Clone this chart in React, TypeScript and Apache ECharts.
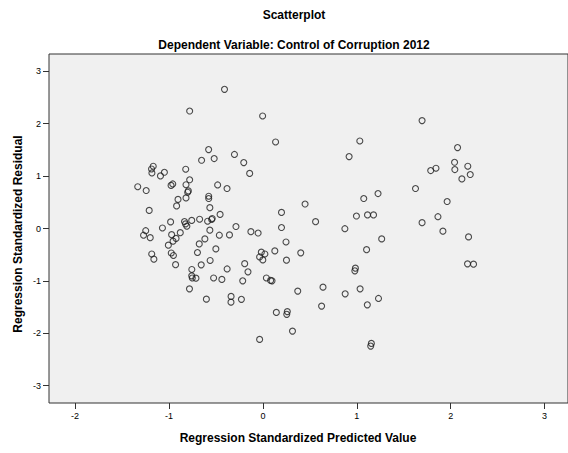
import React, { useEffect, useRef } from "react";
import * as echarts from "echarts";

// Regression diagnostics: standardized predicted value vs. standardized residual
const predicted = [
  -0.780, -0.578, -0.653, -0.519, -1.168, -1.186, -1.182, -1.049, -1.091, -0.822,
  -0.780, -1.333, -1.243, -0.960, -0.978, -0.819, -0.794, -0.801, -0.819, -0.904,
  -0.919, -1.211, -0.482, -0.577, -0.577, -0.565, -0.456, -0.983, -0.835, -0.824,
  -0.810, -0.758, -0.674, -0.589, -0.540, -0.546, -1.070, -1.248, -1.271, -1.200,
  -0.972, -0.880, -0.925, -0.957, -1.007, -1.184, -1.161, -0.976, -0.953, -0.930,
  -0.757, -0.758, -0.752, -0.713, -0.782, -0.602, -0.565, -0.464, -0.618, -0.678,
  -0.501, -0.697, -0.562, -0.657, -0.525, -0.437, -0.356, -0.287, -0.381, -0.215,
  -0.194, -0.159, -0.339, -0.340, -0.229, -0.409, -0.003, 0.135, -0.303, -0.204,
  -0.141, -0.382, -0.128, -0.051, 0.198, 0.198, 0.449, 0.561, -0.017, 0.021,
  -0.035, -0.001, 0.127, 0.246, 0.251, 0.403, 0.037, 0.082, 0.097, 0.143,
  0.260, 0.254, 0.315, -0.035, 0.371, 0.640, 0.625, 0.876, 0.873, 1.032,
  0.918, 0.996, 1.074, 1.114, 1.178, 1.226, 0.985, 0.979, 1.035, 1.104,
  1.112, 1.231, 1.155, 1.148, 1.265, 1.695, 2.073, 2.041, 2.044, 2.182,
  2.208, 2.119, 1.787, 1.843, 1.625, 1.962, 1.864, 1.695, 1.917, 2.190,
  2.179, 2.243,
];

const residual = [
  2.242, 1.506, 1.302, 1.335, 1.188, 1.136, 1.060, 1.073, 1.003, 1.131,
  0.930, 0.797, 0.725, 0.850, 0.822, 0.835, 0.717, 0.692, 0.583, 0.555,
  0.431, 0.345, 0.831, 0.616, 0.572, 0.397, 0.269, 0.126, 0.133, 0.088,
  0.044, 0.154, 0.177, 0.139, 0.191, 0.172, 0.010, -0.042, -0.128, -0.175,
  -0.118, -0.080, -0.189, -0.242, -0.318, -0.486, -0.585, -0.467, -0.515, -0.690,
  -0.782, -0.904, -0.944, -0.948, -1.152, -1.348, -0.032, -0.128, -0.198, -0.294,
  -0.389, -0.458, -0.610, -0.694, -0.944, -0.972, -0.122, 0.038, -0.772, -0.999,
  -0.671, -0.827, -1.296, -1.405, -1.352, 2.656, 2.147, 1.651, 1.413, 1.258,
  1.051, 0.763, -0.061, -0.086, 0.307, 0.019, 0.467, 0.130, -0.452, -0.486,
  -0.543, -0.599, -0.427, -0.257, -0.604, -0.465, -0.944, -0.991, -0.999, -1.602,
  -1.586, -1.638, -1.958, -2.116, -1.195, -1.119, -1.481, -1.247, -0.004, 1.670,
  1.373, 0.238, 0.572, 0.259, 0.259, 0.667, -0.757, -0.808, -1.152, -0.404,
  -1.457, -1.335, -2.193, -2.244, -0.198, 2.059, 1.544, 1.264, 1.125, 1.188,
  1.030, 0.946, 1.106, 1.150, 0.763, 0.515, 0.225, 0.111, -0.051, -0.160,
  -0.675, -0.681,
];

const xTicks = [-2, -1, 0, 1, 2, 3];
const yTicks = [-3, -2, -1, 0, 1, 2, 3];

const FONT = "'Liberation Sans', Arial, sans-serif";

export default function App() {
  const ref = useRef<HTMLDivElement>(null);

  useEffect(() => {
    if (!ref.current) return;
    const chart = echarts.init(ref.current, undefined, { renderer: "svg" });
    const points = predicted.map((p, i) => [p, residual[i]]);

    chart.setOption({
      animation: false,
      backgroundColor: "#ffffff",
      title: [
        {
          text: "Scatterplot",
          left: 289,
          top: 4,
          textAlign: "center",
          textStyle: { fontFamily: FONT, fontSize: 12, fontWeight: "bold", color: "#000" },
        },
        {
          text: "Dependent Variable: Control of Corruption 2012",
          left: 289,
          top: 34,
          textAlign: "center",
          textStyle: { fontFamily: FONT, fontSize: 12, fontWeight: "bold", color: "#000" },
        },
      ],
      grid: {
        left: 49,
        right: -3,
        top: 54,
        bottom: 50,
        show: true,
        backgroundColor: "#f0f0f0",
        borderColor: "#333333",
        borderWidth: 1,
      },
      xAxis: {
        type: "value",
        min: -2.278,
        max: 3.249,
        splitLine: { show: false },
        axisLine: { show: false, onZero: false },
        axisTick: {
          show: true,
          inside: false,
          length: 6,
          customValues: xTicks,
          lineStyle: { color: "#333333", width: 1 },
        },
        axisLabel: {
          customValues: xTicks,
          fontFamily: FONT,
          fontSize: 9,
          color: "#000",
          margin: 8,
        },
      },
      yAxis: {
        type: "value",
        min: -3.33,
        max: 3.33,
        splitLine: { show: false },
        axisLine: { show: false, onZero: false },
        axisTick: {
          show: true,
          inside: false,
          length: 6,
          customValues: yTicks,
          lineStyle: { color: "#333333", width: 1 },
        },
        axisLabel: {
          customValues: yTicks,
          fontFamily: FONT,
          fontSize: 9,
          color: "#000",
          margin: 8,
        },
      },
      graphic: [
        {
          type: "text",
          x: 298,
          y: 438,
          style: {
            text: "Regression Standardized Predicted Value",
            fontFamily: FONT,
            fontSize: 12,
            fontWeight: "bold",
            fill: "#000",
            textAlign: "center",
            textVerticalAlign: "middle",
          },
        },
        {
          type: "text",
          x: 18,
          y: 234,
          rotation: Math.PI / 2,
          style: {
            text: "Regression Standardized Residual",
            fontFamily: FONT,
            fontSize: 12,
            fontWeight: "bold",
            fill: "#000",
            textAlign: "center",
            textVerticalAlign: "middle",
          },
        },
      ],
      series: [
        {
          type: "scatter",
          data: points,
          symbol: "circle",
          symbolSize: 6,
          itemStyle: {
            color: "transparent",
            borderColor: "#1f1f1f",
            borderWidth: 1.1,
          },
          emphasis: { disabled: true },
        },
      ],
    });

    return () => chart.dispose();
  }, []);

  return (
    <div
      ref={ref}
      style={{ position: "fixed", left: 0, top: 0, width: 568, height: 453 }}
    />
  );
}
